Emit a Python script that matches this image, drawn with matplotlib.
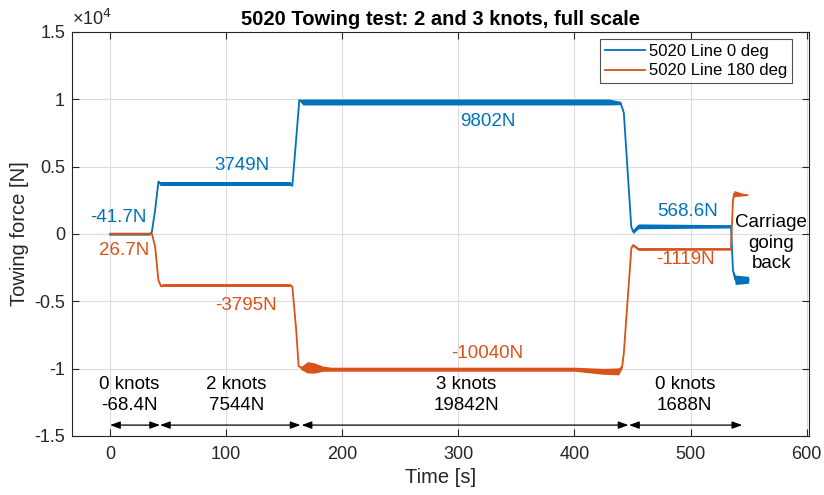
import matplotlib
matplotlib.use("Agg")
import matplotlib.pyplot as plt
import numpy as np

plt.rcParams["font.family"] = ["Liberation Sans", "DejaVu Sans"]

# ---- data -------------------------------------------------------------
# Line at 0 deg: time [s], force [N], half-width of the noise band [N]
t_line0 = [0, 34, 36, 38.8, 41.6, 43, 155, 157, 163, 166, 430, 439.7, 442.5,
           448.9, 450.5, 455, 534.8, 536.5, 538.5, 541, 545, 550]
f_line0 = [-41.7, -41.7, 170, 1780, 3890, 3749, 3749, 3600, 9950, 9802, 9802,
           9730, 9000, 540, 170, 568.6, 568.6, -2700, -3400, -3400, -3400, -3400]
n_line0 = [20, 20, 20, 20, 60, 150, 150, 40, 40, 220, 220, 120, 20, 20, 150,
           180, 120, 20, 350, 330, 300, 250]

# Line at 180 deg
t_line180 = [0, 36, 38.8, 41.6, 43.7, 46, 155, 157, 160.3, 162.4, 165, 170,
             176, 183, 190, 400, 425, 438, 441, 442.5, 449, 450.5, 455, 534.8,
             536.5, 537.5, 549]
f_line180 = [26.7, 26.7, -940, -3420, -3860, -3795, -3795, -3900, -7130,
             -9810, -9950, -9900, -9950, -10000, -10040, -10040, -10200,
             -10200, -9860, -8840, -1040, -820, -1119, -1119, 2500, 3000, 2880]
n_line180 = [40, 40, 20, 20, 60, 100, 100, 20, 20, 20, 150, 420, 380, 200, 150,
             150, 220, 260, 120, 20, 20, 100, 100, 80, 20, 230, 20]

# Mean force labels per plateau: (time, force, text)
labels_line0 = [(7.2, 1210, "-41.7N"), (113.8, 5050, "3749N"),
                (325, 8320, "9802N"), (497, 1660, "568.6N")]
labels_line180 = [(11.9, -1190, "26.7N"), (117, -5275, "-3795N"),
                  (325, -8840, "-10040N"), (495.7, -1930, "-1119N")]

# Speed phases: start, end, speed text, total force text
phase_start = [0, 43, 165, 447]
phase_end = [43, 164, 446.5, 544.5]
phase_speed = ["0 knots", "2 knots", "3 knots", "0 knots"]
phase_force = ["-68.4N", "7544N", "19842N", "1688N"]
phase_label_x = [16.3, 109, 307, 495]

x_ticks = [0, 100, 200, 300, 400, 500, 600]
y_ticks = [-15000, -10000, -5000, 0, 5000, 10000, 15000]
y_tick_labels = ["-1.5", "-1", "-0.5", "0", "0.5", "1", "1.5"]

blue = "#0072BD"
orange = "#D95319"
ink = "#262626"

# ---- figure -----------------------------------------------------------
fig = plt.figure(figsize=(8.24, 4.95), dpi=100)
ax = fig.add_axes([72 / 824, 59 / 495, 737 / 824, 404 / 495])

for t, f, n, c, name in [(t_line0, f_line0, n_line0, blue, "5020 Line 0 deg"),
                         (t_line180, f_line180, n_line180, orange,
                          "5020 Line 180 deg")]:
    t = np.asarray(t, float)
    f = np.asarray(f, float)
    n = np.asarray(n, float)
    ax.fill_between(t, f - n, f + n, color=c, linewidth=0, zorder=3)
    ax.plot(t, f, color=c, linewidth=1.3, label=name, zorder=3)

for x, y, s in labels_line0:
    ax.text(x, y, s, color=blue, fontsize=13.5, ha="center", va="center")
for x, y, s in labels_line180:
    ax.text(x, y, s, color=orange, fontsize=13.5, ha="center", va="center")

ax.text(569.4, -670, "Carriage\ngoing\nback", color="black", fontsize=13.5,
        ha="center", va="center", linespacing=1.25)

for a, b, sp, fo, lx in zip(phase_start, phase_end, phase_speed, phase_force,
                            phase_label_x):
    ax.annotate("", xy=(a, -14190), xytext=(b, -14190),
                arrowprops=dict(arrowstyle="<|-|>,head_length=0.6,head_width=0.22",
                                color="black", lw=0.9, shrinkA=0, shrinkB=0))
    ax.text(lx, -11940, sp + "\n" + fo, fontsize=13.5, ha="center",
            va="center", linespacing=1.3)

ax.set_xlim(-32.8, 602)
ax.set_ylim(-15000, 15000)
ax.set_xticks(x_ticks)
ax.set_yticks(y_ticks)
ax.set_yticklabels(y_tick_labels)
ax.tick_params(direction="in", length=5, width=0.8, top=True, right=True,
               labelsize=13, colors=ink)
ax.tick_params(axis="y", pad=5)
ax.tick_params(axis="x", pad=7)
ax.grid(True, color="#dcdcdc", linewidth=0.8)
ax.set_axisbelow(True)
for sp in ax.spines.values():
    sp.set_color(ink)
    sp.set_linewidth(0.8)

ax.set_xlabel("Time [s]", fontsize=14.5, color=ink, labelpad=4)
ax.set_ylabel("Towing force [N]", fontsize=14.5, color=ink, labelpad=4)
ax.set_title("5020 Towing test: 2 and 3 knots, full scale", fontsize=14.5,
             fontweight="bold", color="black", pad=5)
ax.text(0.0, 1.008, "×10$^{4}$", transform=ax.transAxes, fontsize=13,
        color=ink, ha="left", va="bottom")

leg = ax.legend(loc="upper right", bbox_to_anchor=(0.977, 0.982),
                borderaxespad=0, fontsize=12, frameon=True, fancybox=False,
                edgecolor=ink, handlelength=2.4, handletextpad=0.2,
                borderpad=0.3, labelspacing=0.25)
leg.get_frame().set_linewidth(0.8)

fig.savefig("out.png", dpi=100)
